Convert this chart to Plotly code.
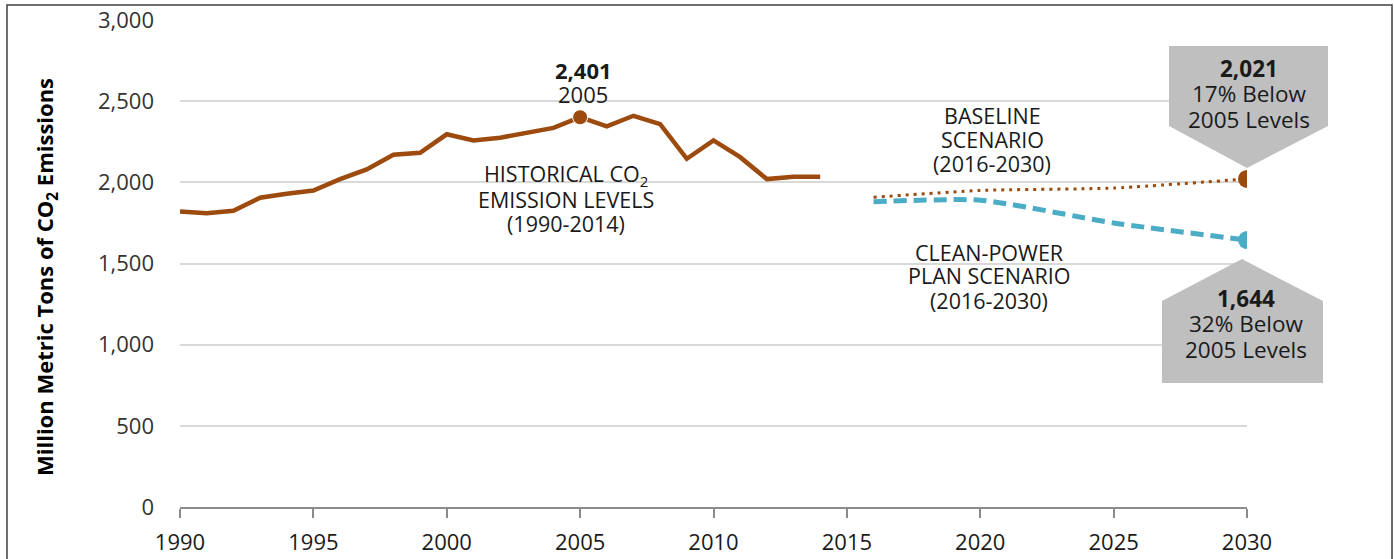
import plotly.graph_objects as go

# ---- data ----
hist_years = list(range(1990, 2015))
hist_values = [1820, 1810, 1825, 1905, 1930, 1950, 2020, 2080, 2170, 2182, 2296, 2258, 2275,
               2305, 2335, 2401, 2345, 2410, 2358, 2145, 2258, 2155, 2020, 2035, 2035]
peak_year = [2005]
peak_value = [2401]
scen_years = [2016, 2020, 2025, 2030]
baseline_values = [1908, 1950, 1965, 2021]
cpp_values = [1880, 1890, 1750, 1644]
x_ticks = [1990, 1995, 2000, 2005, 2010, 2015, 2020, 2025, 2030]
y_ticks = [0, 500, 1000, 1500, 2000, 2500, 3000]

BROWN = "#9c4a0e"
BLUE = "#4bacc6"
FONT = "Open Sans"
TXT = "#1a1a1a"
XR = [1990, 2030]
YR = [0, 3000]

fig = go.Figure()
fig.add_trace(go.Scatter(x=hist_years, y=hist_values, mode="lines",
                         line=dict(color=BROWN, width=4.5), hoverinfo="skip"))
fig.add_trace(go.Scatter(x=peak_year, y=peak_value, mode="markers",
                         marker=dict(color=BROWN, size=15, line=dict(color="white", width=1)),
                         hoverinfo="skip"))
fig.add_trace(go.Scatter(x=scen_years, y=baseline_values, mode="lines",
                         line=dict(color=BROWN, width=3, dash="3px,5px", shape="spline", smoothing=0.6),
                         hoverinfo="skip"))
fig.add_trace(go.Scatter(x=scen_years, y=cpp_values, mode="lines",
                         line=dict(color=BLUE, width=5, dash="13px,7px", shape="spline", smoothing=0.6),
                         hoverinfo="skip"))
fig.add_trace(go.Scatter(x=[scen_years[-1]], y=[baseline_values[-1]], mode="markers",
                         marker=dict(color=BROWN, size=18), hoverinfo="skip"))
fig.add_trace(go.Scatter(x=[scen_years[-1]], y=[cpp_values[-1]], mode="markers",
                         marker=dict(color=BLUE, size=18), hoverinfo="skip"))

ML, MR, MT, MB = 180, 147, 20, 52
W, H = 1394, 559
PW, PH = W - ML - MR, H - MT - MB


def px_to_y(py):
    return YR[0] + (H - MB - py) / PH * (YR[1] - YR[0])


def px_to_x(px):
    return XR[0] + (px - ML) / PW * (XR[1] - XR[0])


end_xp = (scen_years[-1] - XR[0]) / (XR[1] - XR[0])
shapes = []
# outer border
shapes.append(dict(type="rect", xref="paper", yref="paper",
                   x0=(7 - ML) / PW, x1=(1392 - ML) / PW,
                   y0=(H - MB - 575) / PH, y1=(H - MB - 5) / PH,
                   line=dict(color="#3f3f3f", width=1.5), fillcolor="rgba(0,0,0,0)", layer="below"))
# callout upper (pointing down to baseline end)
shapes.append(dict(type="path", xref="paper", yref="paper", xsizemode="pixel", ysizemode="pixel",
                   xanchor=end_xp, yanchor=(baseline_values[-1] - YR[0]) / (YR[1] - YR[0]),
                   path="M -78,53 L -78,133 L 81,133 L 81,53 L 0,11 Z",
                   fillcolor="#bfbfbf", line=dict(width=0), layer="above"))
# callout lower (pointing up to clean power end)
shapes.append(dict(type="path", xref="paper", yref="paper", xsizemode="pixel", ysizemode="pixel",
                   xanchor=end_xp, yanchor=(cpp_values[-1] - YR[0]) / (YR[1] - YR[0]),
                   path="M -85,-61 L -85,-143 L 76,-143 L 76,-61 L -5,-19 Z",
                   fillcolor="#bfbfbf", line=dict(width=0), layer="above"))

annotations = []


def add_lines(x, y, lines, shifts, size=21.5, xshift=0, bold_first=False):
    for i, (ln, ys) in enumerate(zip(lines, shifts)):
        txt = f"<b>{ln}</b>" if (bold_first and i == 0) else ln
        annotations.append(dict(x=x, y=y, xref="x", yref="y", showarrow=False, text=txt,
                                xshift=xshift, yshift=ys,
                                font=dict(family=FONT, size=size, color=TXT)))


# peak label (relative to the 2005 point)
add_lines(peak_year[0], peak_value[0], [f"{peak_value[0]:,}", str(peak_year[0])],
          [47, 23], size=22, xshift=3, bold_first=True)
# historical label
hx, hy = px_to_x(566), px_to_y(199)
add_lines(hx, hy, ["HISTORICAL CO<sub>2</sub>", "EMISSION LEVELS", "(1990-2014)"], [24, 0, -24.5])
# baseline label
bx, by = px_to_x(992), px_to_y(139)
add_lines(bx, by, ["BASELINE", "SCENARIO", "(2016-2030)"], [24, 0, -24.5])
# clean power label
cx, cy = px_to_x(989), px_to_y(275)
add_lines(cx, cy, ["CLEAN-POWER", "PLAN SCENARIO", "(2016-2030)"], [23, 0, -25])
# callouts
add_lines(scen_years[-1], baseline_values[-1],
          [f"{baseline_values[-1]:,}", "17% Below", "2005 Levels"], [110, 85, 59],
          size=22.5, xshift=2, bold_first=True)
add_lines(scen_years[-1], cpp_values[-1],
          [f"{cpp_values[-1]:,}", "32% Below", "2005 Levels"], [-58, -83, -109],
          size=22.5, xshift=-1, bold_first=True)
# y-axis title
annotations.append(dict(x=0, y=(H - MB - 277) / PH, xref="paper", yref="paper", showarrow=False,
                        xanchor="center", yanchor="middle",
                        text="<b>Million Metric Tons of CO<sub>2</sub> Emissions</b>", textangle=-90,
                        xshift=-134, font=dict(family=FONT, size=22, color="#000000")))

fig.update_layout(
    width=W, height=H, margin=dict(l=ML, r=MR, t=MT, b=MB, autoexpand=False),
    paper_bgcolor="white", plot_bgcolor="white", showlegend=False,
    shapes=shapes, annotations=annotations,
    font=dict(family=FONT, color="#404040"),
    xaxis=dict(range=XR, tickvals=x_ticks, ticktext=[str(v) for v in x_ticks],
               showgrid=False, zeroline=False, showline=True, linecolor="#8c8c8c", linewidth=1.5,
               ticks="outside", ticklen=9, tickcolor="#8c8c8c", tickwidth=1.5, automargin=False,
               ticklabelstandoff=6,
               tickfont=dict(family=FONT, size=22, color="#1a1a1a")),
    yaxis=dict(range=YR, tickvals=y_ticks, ticktext=[f"{v:,}" for v in y_ticks],
               showgrid=True, gridcolor="#d9d9d9", gridwidth=1.5, zeroline=False, showline=False,
               ticks="", ticklabelstandoff=25, automargin=False,
               tickfont=dict(family=FONT, size=22, color="#333333")),
)

fig.write_html("out.html", config={"displayModeBar": False},
               post_script="document.body.style.margin='0';document.body.style.overflow='hidden';")
